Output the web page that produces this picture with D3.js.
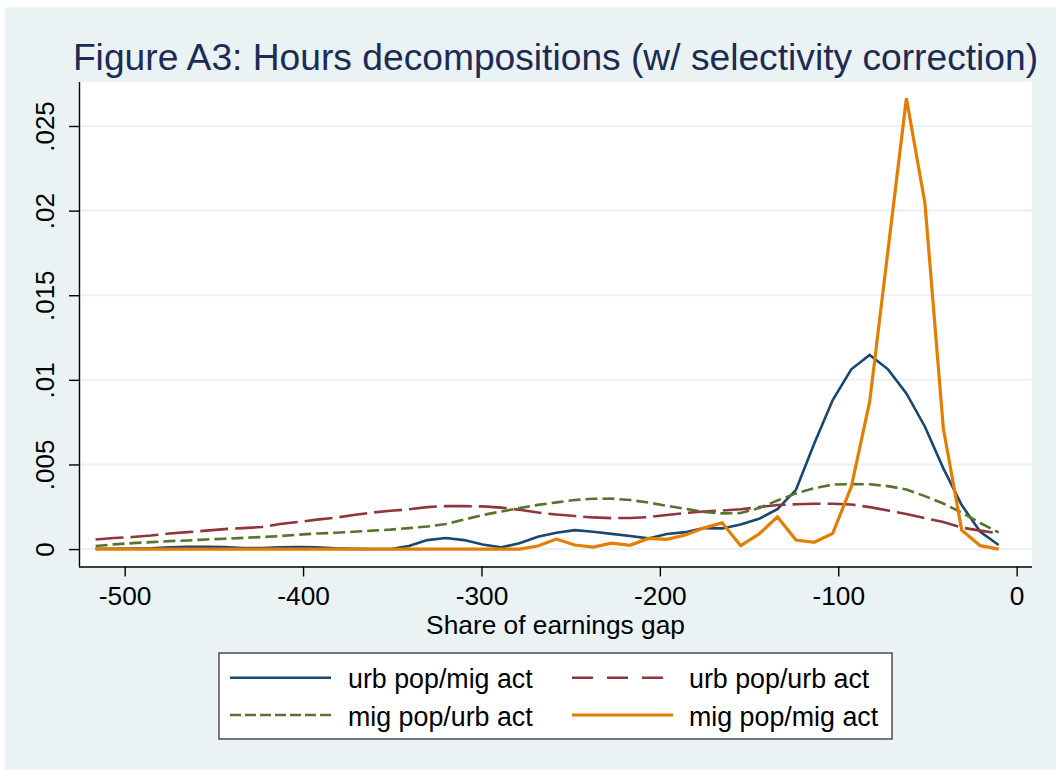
<!DOCTYPE html>
<html>
<head>
<meta charset="utf-8">
<script src="https://cdn.jsdelivr.net/npm/d3@7/dist/d3.min.js"></script>
<style>
  html, body { margin: 0; padding: 0; background: #ffffff; }
  svg { display: block; }
  text { font-family: "Liberation Sans", Arial, Helvetica, sans-serif; }
</style>
</head>
<body>
<svg id="chart" width="1064" height="776"></svg>
<script>
// ---- data ----
const titleText = "Figure A3: Hours decompositions (w/ selectivity correction)";
const xTitle = "Share of earnings gap";
const xTicks = [-500, -400, -300, -200, -100, 0];
const yTicks = [0, 0.005, 0.01, 0.015, 0.02, 0.025];
const yTickLabels = ["0", ".005", ".01", ".015", ".02", ".025"];
const seriesNames = ["urb pop/mig act", "urb pop/urb act", "mig pop/urb act", "mig pop/mig act"];

// evaluation grid (50 points)
const xGrid = [-516.3, -506.0, -495.6, -485.3, -475.0, -464.6, -454.3, -444.0, -433.7, -423.3,
  -413.0, -402.7, -392.3, -382.0, -371.7, -361.3, -351.0, -340.7, -330.4, -320.0,
  -309.7, -299.4, -289.0, -278.7, -268.4, -258.0, -247.7, -237.4, -227.0, -216.7,
  -206.4, -196.1, -185.7, -175.4, -165.1, -154.7, -144.4, -134.1, -123.7, -113.4,
  -103.1, -92.7, -82.4, -72.1, -61.8, -51.4, -41.1, -30.8, -20.4, -10.1];

const urbPopMigAct = [0.00002, 0.00002, 0.00003, 0.00005, 0.00010, 0.00013, 0.00014, 0.00012, 0.00006, 0.00006,
  0.00010, 0.00012, 0.00010, 0.00004, 0.00001, 0.00000, 0.00000, 0.00018, 0.00053, 0.00065,
  0.00053, 0.00027, 0.00010, 0.00034, 0.00073, 0.00096, 0.00112, 0.00102, 0.00090, 0.00077,
  0.00063, 0.00089, 0.00100, 0.00124, 0.00122, 0.00145, 0.00179, 0.00236, 0.00350, 0.00625,
  0.00881, 0.01062, 0.01147, 0.01062, 0.00920, 0.00723, 0.00477, 0.00260, 0.00102, 0.00024];

const urbPopUrbAct = [0.00057, 0.00065, 0.00071, 0.00080, 0.00092, 0.00100, 0.00109, 0.00118, 0.00124, 0.00130,
  0.00148, 0.00160, 0.00174, 0.00185, 0.00201, 0.00216, 0.00226, 0.00235, 0.00248, 0.00254,
  0.00254, 0.00252, 0.00245, 0.00232, 0.00216, 0.00204, 0.00195, 0.00187, 0.00183, 0.00184,
  0.00189, 0.00201, 0.00213, 0.00222, 0.00228, 0.00235, 0.00248, 0.00260, 0.00265, 0.00268,
  0.00268, 0.00263, 0.00248, 0.00228, 0.00207, 0.00183, 0.00160, 0.00127, 0.00109, 0.00093];

const migPopUrbAct = [0.00018, 0.00028, 0.00035, 0.00041, 0.00047, 0.00051, 0.00057, 0.00061, 0.00066, 0.00071,
  0.00077, 0.00085, 0.00092, 0.00096, 0.00102, 0.00109, 0.00115, 0.00124, 0.00133, 0.00148,
  0.00174, 0.00201, 0.00222, 0.00242, 0.00261, 0.00276, 0.00290, 0.00297, 0.00298, 0.00290,
  0.00275, 0.00256, 0.00238, 0.00219, 0.00211, 0.00213, 0.00242, 0.00287, 0.00329, 0.00360,
  0.00381, 0.00384, 0.00383, 0.00372, 0.00352, 0.00313, 0.00269, 0.00216, 0.00154, 0.00098];

const migPopMigAct = [0, 0, 0, 0, 0, 0, 0, 0, 0, 0,
  0, 0, 0, 0, 0, 0, 0, 0, 0, 0,
  0, 0, 0, 0, 0.00018, 0.00059, 0.00024, 0.00012, 0.00035, 0.00022,
  0.00063, 0.00057, 0.00083, 0.00124, 0.00155, 0.00020, 0.00089, 0.00190, 0.00053, 0.00040,
  0.00093, 0.00368, 0.00870, 0.01767, 0.02664, 0.02043, 0.00713, 0.00112, 0.00020, 0.00000];

// ---- styles ----
const bg = "#eaf2f3";
const colors = ["#1a476f", "#90353b", "#55752f", "#e37e00"];
const plotDash = [null, "28,7", "12,5", null];
const legendDash = [null, "21,14", "11,4", null];
const widths = [2.6, 2.6, 2.6, 3.2];
const seriesData = [urbPopMigAct, urbPopUrbAct, migPopUrbAct, migPopMigAct];

const svg = d3.select("#chart");
const W = 1064, H = 776;

// outer panel
svg.append("rect").attr("x", 0).attr("y", 0).attr("width", W).attr("height", H).attr("fill", "#ffffff");
svg.append("rect").attr("x", 5).attr("y", 7.5).attr("width", 1051).attr("height", 762).attr("fill", bg);

const plot = {left: 79, right: 1032, top: 82, bottom: 566.5};
svg.append("rect").attr("x", plot.left).attr("y", plot.top)
  .attr("width", plot.right - plot.left).attr("height", plot.bottom - plot.top).attr("fill", "#ffffff");

const x = d3.scaleLinear().domain([-525.6, 8.6]).range([plot.left, plot.right]);
const y = d3.scaleLinear().domain([-0.00103, 0.0276]).range([plot.bottom, plot.top]);

// gridlines
svg.append("g").selectAll("line").data(yTicks).join("line")
  .attr("x1", plot.left).attr("x2", plot.right)
  .attr("y1", d => y(d)).attr("y2", d => y(d))
  .attr("stroke", bg).attr("stroke-width", 2);

// title
svg.append("text").attr("x", (plot.left + plot.right) / 2).attr("y", 70)
  .attr("text-anchor", "middle").attr("font-size", 37.2).attr("fill", "#1c2b55")
  .text(titleText);

// y axis
const yAxis = d3.axisLeft(y).tickValues(yTicks).tickSize(10)
  .tickFormat((d, i) => yTickLabels[i]);
const gy = svg.append("g").attr("transform", `translate(${plot.left},0)`).call(yAxis);
gy.select(".domain").attr("stroke", "#000").attr("stroke-width", 1.4)
  .attr("d", `M0.5,${plot.top}V${plot.bottom}`);
gy.selectAll(".tick line").attr("stroke", "#000").attr("stroke-width", 1.4);
gy.selectAll(".tick text")
  .attr("font-size", 26).attr("fill", "#000").attr("font-family", "Liberation Sans, Arial, sans-serif")
  .attr("text-anchor", "middle").attr("dy", null)
  .attr("transform", "rotate(-90)")
  .attr("x", 0).attr("y", -25.5);

// x axis
const xAxis = d3.axisBottom(x).tickValues(xTicks).tickSize(10).tickFormat(d3.format("d"));
const gx = svg.append("g").attr("transform", `translate(0,${plot.bottom})`).call(xAxis);
gx.select(".domain").attr("stroke", "#000").attr("stroke-width", 1.4)
  .attr("d", `M${plot.left},0.5H${plot.right}`);
gx.selectAll(".tick line").attr("stroke", "#000").attr("stroke-width", 1.4);
gx.selectAll(".tick text")
  .attr("font-size", 26.3).attr("fill", "#000").attr("font-family", "Liberation Sans, Arial, sans-serif")
  .attr("dy", null).attr("y", 38.5)
  .text(d => d < 0 ? "-" + Math.abs(d) : String(d));

svg.append("text").attr("x", (plot.left + plot.right) / 2).attr("y", 633.5)
  .attr("text-anchor", "middle").attr("font-size", 26.3).attr("fill", "#000").text(xTitle);

// lines
const line = d3.line().x((d, i) => x(xGrid[i])).y(d => y(d));
const gl = svg.append("g");
seriesData.forEach((s, k) => {
  gl.append("path").datum(s).attr("d", line)
    .attr("fill", "none").attr("stroke", colors[k]).attr("stroke-width", widths[k])
    .attr("stroke-linejoin", "miter").attr("stroke-dasharray", plotDash[k]);
});

// legend
const lg = svg.append("g");
lg.append("rect").attr("x", 219).attr("y", 653).attr("width", 673).attr("height", 86)
  .attr("fill", "#fff").attr("stroke", "#333").attr("stroke-width", 1.3);
const legPos = [
  {lx: 230, tx: 348, y: 677.7},
  {lx: 572, tx: 689, y: 677.7},
  {lx: 230, tx: 348, y: 715},
  {lx: 572, tx: 689, y: 715}
];
seriesNames.forEach((name, k) => {
  const p = legPos[k];
  lg.append("line").attr("x1", p.lx).attr("x2", p.lx + 101).attr("y1", p.y).attr("y2", p.y)
    .attr("stroke", colors[k]).attr("stroke-width", widths[k]).attr("stroke-dasharray", legendDash[k]);
  lg.append("text").attr("x", p.tx).attr("y", p.y + 10.5).attr("font-size", 26.8).attr("fill", "#000").text(name);
});
</script>
</body>
</html>
